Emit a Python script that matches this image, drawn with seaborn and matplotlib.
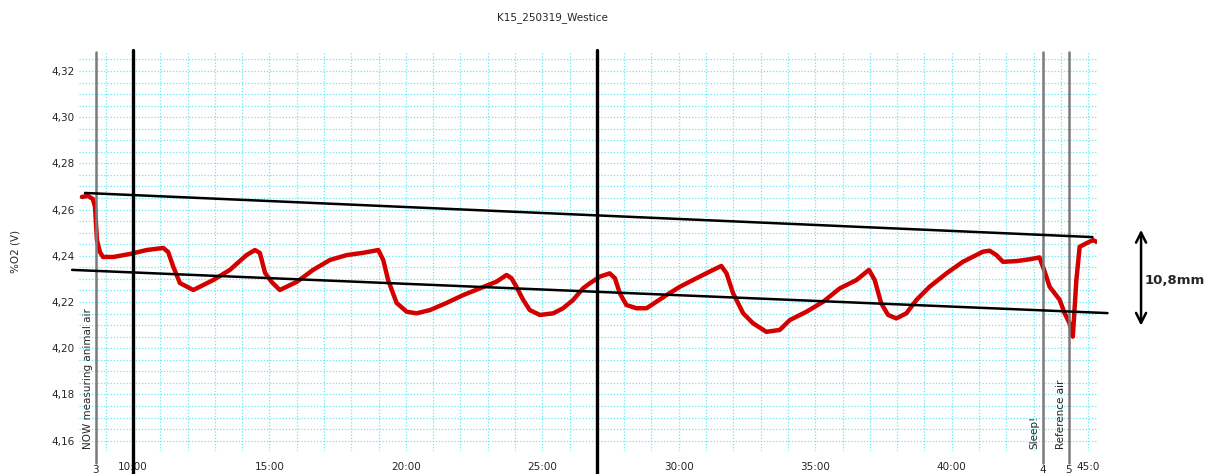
import numpy as np
import pandas as pd
import seaborn as sns
import matplotlib.pyplot as plt
from matplotlib.ticker import MultipleLocator

# red O2 trace (minutes, %O2 signal in V)
minutes = [8.13, 8.35, 8.53, 8.61, 8.68, 8.79, 8.90, 9.28, 9.89, 10.50, 11.11, 11.29,
           11.48, 11.72, 12.21, 12.94, 13.55, 14.16, 14.47, 14.65, 14.84, 15.08, 15.38,
           16.00, 16.60, 17.22, 17.83, 18.44, 18.99, 19.17, 19.35, 19.66, 20.03, 20.39,
           20.88, 21.49, 22.10, 22.71, 23.32, 23.69, 23.87, 24.05, 24.30, 24.54, 24.91,
           25.40, 25.76, 26.13, 26.49, 26.74, 27.11, 27.47, 27.66, 27.84, 28.08, 28.45,
           28.82, 29.18, 29.55, 30.04, 30.65, 31.26, 31.56, 31.75, 31.99, 32.36, 32.72,
           33.21, 33.70, 34.07, 34.68, 35.29, 35.90, 36.51, 36.97, 37.18, 37.42, 37.67,
           37.97, 38.34, 38.71, 39.19, 39.81, 40.41, 41.15, 41.39, 41.64, 41.88, 42.37,
           42.86, 43.22, 43.41, 43.59, 43.96, 44.14, 44.32, 44.44, 44.57, 44.69, 44.93,
           45.18, 45.30]
o2 = [4.2655, 4.2659, 4.2646, 4.2611, 4.2468, 4.2416, 4.2395, 4.2395, 4.2408, 4.2425,
      4.2434, 4.2416, 4.2352, 4.2282, 4.2252, 4.2295, 4.2339, 4.2403, 4.2425, 4.2412,
      4.2326, 4.2287, 4.2252, 4.2287, 4.2339, 4.2382, 4.2403, 4.2413, 4.2425, 4.2382,
      4.2295, 4.2196, 4.2158, 4.2151, 4.2165, 4.2196, 4.2230, 4.2259, 4.2288, 4.2317,
      4.2303, 4.2266, 4.2209, 4.2165, 4.2144, 4.2151, 4.2173, 4.2209, 4.2259, 4.2281,
      4.2310, 4.2324, 4.2303, 4.2238, 4.2187, 4.2173, 4.2173, 4.2201, 4.2230, 4.2266,
      4.2303, 4.2339, 4.2356, 4.2324, 4.2238, 4.2151, 4.2108, 4.2071, 4.2079, 4.2122,
      4.2158, 4.2201, 4.2259, 4.2295, 4.2339, 4.2295, 4.2194, 4.2144, 4.2129, 4.2151,
      4.2209, 4.2266, 4.2324, 4.2374, 4.2418, 4.2422, 4.2403, 4.2374, 4.2377, 4.2385,
      4.2393, 4.2331, 4.2266, 4.2209, 4.2151, 4.2108, 4.2050, 4.2295, 4.2439, 4.2454,
      4.2468, 4.2461]

# markers
marker_times = [8.64, 43.33, 44.29]
marker_ids = ["3", "4", "5"]
marker_texts = ["NOW measuring animal air", "Sleep!", "Reference air"]
cursor_times = [10.0, 27.0]

# hand-drawn envelope lines
upper_x = [8.24, 45.16]
upper_y = [4.2672, 4.2481]
lower_x = [7.77, 45.71]
lower_y = [4.2339, 4.2152]

xticks = [10, 15, 20, 25, 30, 35, 40, 45]
xlabels = ["10:00", "15:00", "20:00", "25:00", "30:00", "35:00", "40:00", "45:0"]
yticks = [4.16, 4.18, 4.20, 4.22, 4.24, 4.26, 4.28, 4.30, 4.32]

sns.set_style("white")
plt.rcParams['font.family'] = ['DejaVu Sans']

fig = plt.figure(figsize=(12.09, 4.74), dpi=100)
ax = fig.add_axes([0.0653, 0.0485, 0.8417, 0.8417])

df = pd.DataFrame({"t": minutes, "v": o2})
sns.lineplot(data=df, x="t", y="v", sort=False, color="#d40000", linewidth=3.2, ax=ax)

ax.set_xlim(8.02, 45.31)
ax.set_ylim(4.1555, 4.3282)

ax.xaxis.set_minor_locator(MultipleLocator(1))
ax.yaxis.set_minor_locator(MultipleLocator(0.005))
ax.set_xticks(xticks)
ax.set_xticklabels(xlabels, fontsize=7.5)
ax.set_yticks(yticks)
ax.set_yticklabels([f"{v:.2f}".replace(".", ",") for v in yticks], fontsize=7.5)
ax.tick_params(axis="x", which="both", length=2, width=1, color="#666666", pad=6)
ax.tick_params(axis="y", which="both", length=0, pad=3)
ax.grid(which="both", color="#66e8f5", linestyle=(0, (1, 1.5)), linewidth=0.9)
for s in ax.spines.values():
    s.set_visible(False)
ax.set_xlabel("")
ax.set_ylabel("%O2 (V)", fontsize=7.5, labelpad=22)

for t, mid, txt in zip(marker_times, marker_ids, marker_texts):
    ax.axvline(t, ymin=-0.03, ymax=1.0, color="#7a7a7a", linewidth=1.8, clip_on=False, zorder=3)
    ax.text(t - 0.1, 4.1565, txt, rotation=90, ha="right", va="bottom", fontsize=7.5)
    ax.text(t, -0.035, mid, transform=ax.get_xaxis_transform(), ha="center", va="top",
            fontsize=7.5)

for t in cursor_times:
    ax.axvline(t, ymin=-0.06, ymax=1.005, color="black", linewidth=2.4, clip_on=False, zorder=4)

ax.plot(upper_x, upper_y, color="black", linewidth=1.8, clip_on=False, zorder=5)
ax.plot(lower_x, lower_y, color="black", linewidth=1.8, clip_on=False, zorder=5)

fig.text(0.4566, 0.962, "K15_250319_Westice", ha="center", va="center", fontsize=7.5)

ax.annotate("", xy=(0.9438, 0.307), xytext=(0.9438, 0.521), xycoords="figure fraction",
            arrowprops=dict(arrowstyle="<->", color="black", lw=1.8, mutation_scale=18))
fig.text(0.972, 0.409, "10,8mm", ha="center", va="center", fontsize=9.5, fontweight="bold")

fig.savefig("out.png", dpi=100)
